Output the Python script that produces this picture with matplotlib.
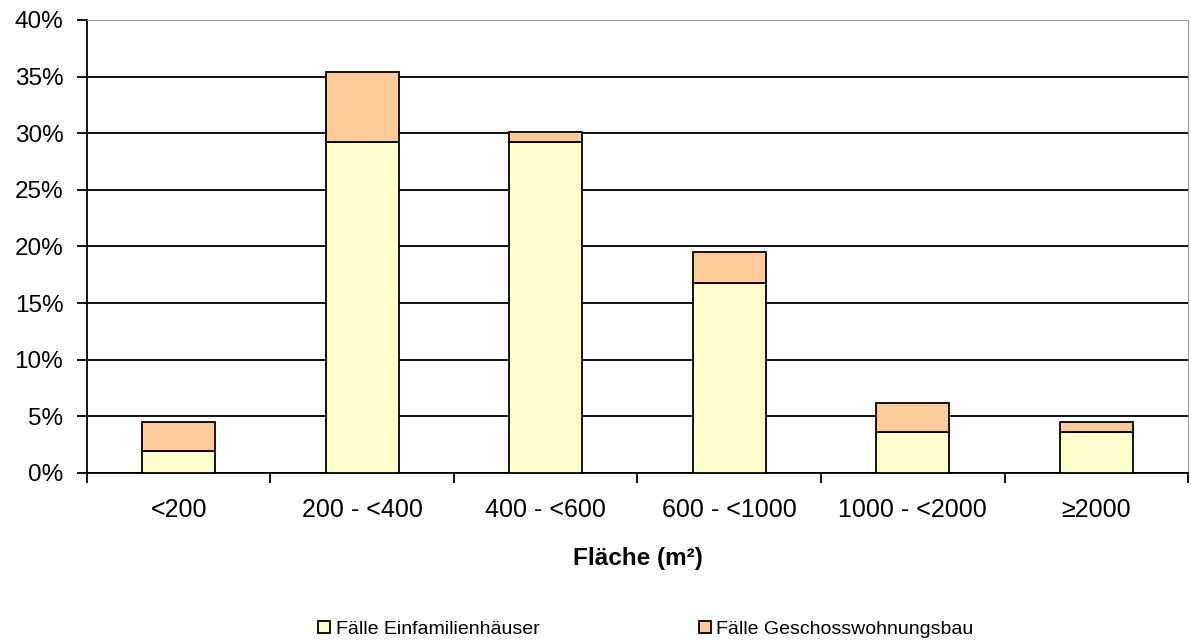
import matplotlib.pyplot as plt
import numpy as np
from matplotlib.ticker import FuncFormatter, FixedLocator

plt.rcParams["font.family"] = ["Liberation Sans", "DejaVu Sans"]

categories = ["<200", "200 - <400", "400 - <600", "600 - <1000", "1000 - <2000", "≥2000"]
einfamilien = [1.9, 29.2, 29.2, 16.8, 3.6, 3.6]
geschoss = [2.6, 6.2, 0.9, 2.7, 2.6, 0.9]
series_labels = ["Fälle Einfamilienhäuser", "Fälle Geschosswohnungsbau"]
y_ticks = [0, 5, 10, 15, 20, 25, 30, 35, 40]

fig = plt.figure(figsize=(11.91, 6.41), dpi=100)
ax = fig.add_axes([0.073, 0.2621, 0.9245, 0.7067])

x = np.arange(len(categories))
ax.bar(x, einfamilien, width=0.4, color="#FFFFCC", edgecolor="black",
       linewidth=1.3, label=series_labels[0], zorder=3)
ax.bar(x, geschoss, width=0.4, bottom=einfamilien, color="#FFCC99",
       edgecolor="black", linewidth=1.3, label=series_labels[1], zorder=3)

ax.set_xlim(-0.5, len(categories) - 0.5)
ax.set_ylim(0, 40)
ax.set_yticks(y_ticks)
ax.yaxis.set_major_formatter(FuncFormatter(lambda v, _: f"{v:.0f}%"))
ax.grid(axis="y", color="black", linewidth=1.3, zorder=0)

ax.set_xticks(x)
ax.set_xticklabels(categories)
ax.tick_params(axis="x", which="major", length=0, pad=18, labelsize=18)
ax.xaxis.set_minor_locator(FixedLocator(np.arange(len(categories) + 1) - 0.5))
ax.tick_params(axis="x", which="minor", length=7, width=1.3, direction="out")
ax.tick_params(axis="y", length=7, width=1.3, direction="out", labelsize=17.5, pad=10)

for side in ["left", "bottom"]:
    ax.spines[side].set_linewidth(1.3)
ax.spines["top"].set_color("#999999")
ax.spines["right"].set_color("#999999")

ax.set_xlabel("Fläche (m²)", fontsize=17.5, fontweight="bold", labelpad=18)

fig.legend(loc="center", bbox_to_anchor=(0.5424, 0.018), ncol=2, frameon=False,
           fontsize=14, columnspacing=8.2, handlelength=0.6, handleheight=0.6,
           handletextpad=0.3)

fig.savefig("out.png", dpi=100)
